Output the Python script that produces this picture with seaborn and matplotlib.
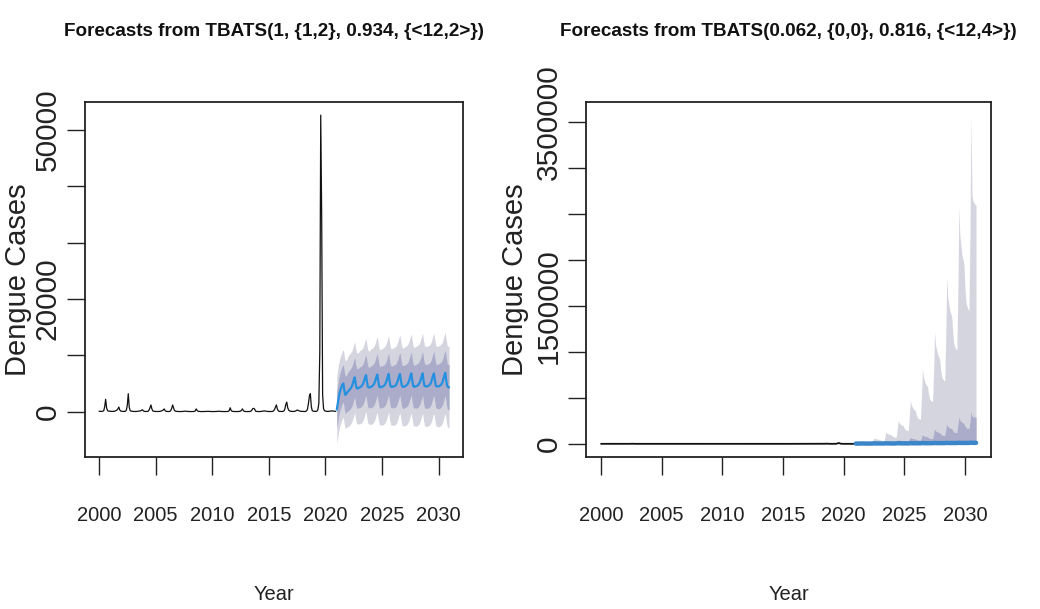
import numpy as np
import pandas as pd
import matplotlib
matplotlib.use("Agg")
import matplotlib.pyplot as plt
import matplotlib.font_manager as fm
import seaborn as sns

# ---------------- data ----------------
year_ticks = [2000, 2005, 2010, 2015, 2020, 2025, 2030]
left_yticks = [0, 10000, 20000, 30000, 40000, 50000]
left_yticklabels = ["0", "", "20000", "", "", "50000"]
right_yticks = [0, 500000, 1000000, 1500000, 2000000, 2500000, 3000000, 3500000]
right_yticklabels = ["0", "", "", "1500000", "", "", "", "3500000"]

left_title = "Forecasts from TBATS(1, {1,2}, 0.934, {<12,2>})"
right_title = "Forecasts from TBATS(0.062, {0,0}, 0.816, {<12,4>})"

# monthly observed dengue cases 2000-2020 (left panel)
left_hist = [
    100, 80, 60, 60, 90, 200, 900, 2200, 700, 200, 120, 100,          # 2000
    80, 60, 60, 50, 70, 120, 200, 300, 500, 830, 300, 120,            # 2001
    80, 60, 50, 60, 90, 300, 1200, 3200, 800, 200, 100, 80,           # 2002
    60, 50, 40, 40, 60, 80, 100, 120, 150, 250, 350, 150,             # 2003
    60, 50, 40, 50, 80, 300, 700, 1200, 500, 150, 80, 60,             # 2004
    50, 40, 40, 40, 50, 80, 120, 200, 300, 500, 200, 80,              # 2005
    50, 40, 40, 60, 200, 600, 1200, 700, 200, 100, 60, 50,            # 2006
    40, 30, 30, 30, 40, 50, 80, 100, 90, 60, 50, 40,                  # 2007
    30, 30, 30, 30, 40, 60, 150, 500, 200, 80, 50, 40,                # 2008
    30, 30, 30, 30, 40, 50, 60, 80, 70, 50, 40, 30,                   # 2009
    30, 30, 30, 30, 40, 50, 70, 90, 80, 60, 40, 30,                   # 2010
    30, 30, 30, 30, 40, 60, 200, 700, 250, 80, 50, 40,                # 2011
    30, 30, 30, 30, 40, 60, 100, 250, 500, 200, 60, 40,               # 2012
    30, 30, 30, 30, 50, 100, 300, 550, 600, 450, 100, 50,             # 2013
    40, 30, 30, 40, 50, 80, 120, 150, 120, 80, 50, 40,                # 2014
    40, 30, 30, 40, 60, 150, 400, 800, 1200, 500, 150, 60,            # 2015
    50, 40, 40, 60, 150, 500, 1300, 1700, 700, 300, 150, 80,          # 2016
    60, 50, 50, 60, 100, 200, 300, 250, 150, 100, 70, 60,             # 2017
    50, 40, 40, 60, 150, 500, 1500, 2800, 3200, 900, 200, 100,        # 2018
    80, 60, 60, 100, 400, 1500, 10500, 52600, 34600, 3000, 500, 200,  # 2019
    100, 80, 60, 60, 80, 100, 120, 150, 120, 100, 80, 60,             # 2020
]

# monthly point forecast 2021-2030 (left panel)
left_mean = [
    400, 1400, 2500, 3300, 3900, 4400, 4800, 5000, 3800, 3000, 3100, 3400,
    3600, 3800, 4000, 4200, 4500, 5000, 5600, 6100, 5000, 4200, 4100, 4200,
    4300, 4400, 4500, 4700, 5000, 5500, 6100, 6500, 5300, 4400, 4300, 4300,
    4400, 4500, 4600, 4800, 5100, 5600, 6200, 6600, 5400, 4500, 4300, 4400,
    4400, 4500, 4600, 4800, 5100, 5600, 6200, 6700, 5400, 4500, 4400, 4400,
    4500, 4500, 4600, 4800, 5200, 5700, 6300, 6700, 5500, 4600, 4400, 4400,
    4500, 4600, 4700, 4900, 5200, 5700, 6300, 6800, 5500, 4600, 4400, 4500,
    4500, 4600, 4700, 4900, 5200, 5700, 6300, 6800, 5500, 4600, 4500, 4500,
    4500, 4600, 4700, 4900, 5200, 5800, 6400, 6800, 5600, 4600, 4500, 4500,
    4500, 4600, 4700, 4900, 5200, 5800, 6400, 6900, 5600, 4600, 4400, 4300,
]
# yearly half-widths of the 80% and 95% prediction intervals (left panel)
left_hw80 = [3300, 3500, 3600, 3700, 3700, 3800, 3800, 3900, 3900, 4000]
left_hw95 = [6000, 6300, 6500, 6700, 6800, 6900, 7000, 7100, 7100, 7200]

# monthly observed series for the right panel (near zero at this scale)
right_hist = [
    120, 90, 80, 80, 110, 250, 600, 900, 400, 200, 150, 120,
    100, 80, 80, 70, 90, 150, 250, 350, 450, 500, 250, 130,
    100, 80, 70, 80, 110, 300, 800, 1300, 500, 200, 120, 100,
    80, 70, 60, 60, 80, 100, 120, 150, 180, 250, 300, 150,
    80, 70, 60, 70, 100, 300, 500, 800, 400, 150, 100, 80,
    70, 60, 60, 60, 70, 100, 150, 200, 300, 400, 200, 100,
    70, 60, 60, 80, 200, 500, 800, 500, 200, 120, 80, 70,
    60, 50, 50, 50, 60, 70, 100, 120, 110, 80, 70, 60,
    50, 50, 50, 50, 60, 80, 150, 400, 200, 100, 70, 60,
    50, 50, 50, 50, 60, 70, 80, 100, 90, 70, 60, 50,
    50, 50, 50, 50, 60, 70, 90, 110, 100, 80, 60, 50,
    50, 50, 50, 50, 60, 80, 200, 500, 250, 100, 70, 60,
    50, 50, 50, 50, 60, 80, 120, 250, 400, 200, 80, 60,
    50, 50, 50, 50, 70, 120, 300, 450, 500, 400, 120, 70,
    60, 50, 50, 60, 70, 100, 140, 170, 140, 100, 70, 60,
    60, 50, 50, 60, 80, 150, 350, 600, 800, 400, 150, 80,
    70, 60, 60, 80, 150, 400, 900, 1100, 500, 300, 150, 100,
    80, 70, 70, 80, 120, 200, 300, 250, 150, 120, 90, 80,
    70, 60, 60, 80, 150, 400, 1000, 1800, 2000, 700, 200, 120,
    100, 80, 80, 120, 400, 1200, 5000, 9000, 7000, 1500, 400, 200,
    120, 100, 80, 80, 100, 120, 140, 160, 140, 120, 100, 80,
]

# monthly point forecast 2021-2030 (right panel, thousands)
right_mean_k = [
    3, 3, 3, 3, 3, 4, 4, 4, 4, 3, 3, 3,
    3, 3, 3, 3, 4, 4, 5, 5, 4, 4, 4, 4,
    4, 4, 4, 4, 4, 5, 6, 5, 5, 5, 4, 4,
    4, 4, 4, 4, 5, 6, 7, 6, 6, 5, 5, 5,
    5, 5, 5, 5, 5, 6, 8, 7, 6, 6, 6, 6,
    6, 6, 6, 6, 6, 7, 9, 8, 7, 7, 7, 7,
    7, 7, 7, 7, 7, 8, 10, 9, 8, 8, 8, 8,
    8, 8, 8, 8, 8, 9, 11, 10, 9, 9, 9, 9,
    9, 9, 9, 9, 9, 10, 12, 11, 10, 10, 10, 10,
    10, 10, 10, 10, 10, 11, 13, 12, 11, 11, 11, 11,
]
# upper 80% bound (thousands)
right_up80_k = [
    8, 8, 8, 9, 9, 10, 12, 11, 11, 10, 10, 10,
    10, 10, 10, 10, 10, 14, 18, 16, 15, 15, 14, 14,
    13, 12, 12, 12, 12, 20, 28, 25, 24, 23, 22, 21,
    19, 18, 17, 17, 17, 30, 45, 40, 38, 36, 35, 34,
    30, 28, 27, 27, 26, 48, 70, 62, 59, 56, 55, 53,
    47, 43, 41, 41, 40, 68, 100, 88, 84, 80, 78, 76,
    66, 60, 58, 57, 56, 105, 160, 141, 134, 128, 125, 122,
    106, 96, 93, 91, 90, 145, 215, 189, 181, 172, 168, 163,
    142, 129, 125, 123, 120, 200, 293, 258, 246, 234, 229, 223,
    193, 176, 170, 167, 164, 240, 350, 300, 295, 292, 290, 288,
]
# upper 95% bound (thousands)
right_up95_k = [
    15, 15, 15, 16, 17, 20, 25, 23, 22, 21, 21, 20,
    19, 18, 18, 18, 18, 40, 65, 57, 55, 52, 51, 49,
    43, 39, 38, 37, 36, 80, 130, 114, 109, 104, 101, 99,
    86, 78, 75, 74, 73, 160, 257, 226, 216, 206, 200, 195,
    170, 154, 149, 146, 144, 300, 475, 418, 399, 380, 370, 361,
    314, 285, 276, 271, 266, 520, 818, 720, 687, 654, 638, 622,
    540, 491, 474, 466, 458, 780, 1217, 1071, 1022, 974, 949, 925,
    803, 730, 706, 694, 682, 1150, 1815, 1597, 1525, 1452, 1416, 1379,
    1198, 1089, 1053, 1035, 1016, 1650, 2576, 2267, 2164, 2061, 2009, 1958,
    1700, 1546, 1494, 1468, 1443, 2300, 3573, 2700, 2640, 2620, 2600, 2590,
]
# yearly lower bounds (thousands)
right_lo80_k = [1, 1, 2, 2, 2, 3, 3, 4, 4, 5]
right_lo95_k = [0.5, 0.5, 1, 1, 1, 1, 1.5, 1.5, 2, 2]

# ---------------- build tables ----------------
hist_t = 2000 + np.arange(len(left_hist)) / 12.0
fc_t = 2021 + np.arange(len(left_mean)) / 12.0

left_df = pd.DataFrame({"t": fc_t, "mean": left_mean,
                        "hw80": np.repeat(left_hw80, 12), "hw95": np.repeat(left_hw95, 12)})
left_df["lo80"] = left_df["mean"] - left_df["hw80"]
left_df["hi80"] = left_df["mean"] + left_df["hw80"]
left_df["lo95"] = left_df["mean"] - left_df["hw95"]
left_df["hi95"] = left_df["mean"] + left_df["hw95"]

right_df = pd.DataFrame({"t": fc_t,
                         "mean": np.array(right_mean_k) * 1000.0,
                         "hi80": np.array(right_up80_k) * 1000.0,
                         "hi95": np.array(right_up95_k) * 1000.0,
                         "lo80": np.repeat(right_lo80_k, 12) * 1000.0,
                         "lo95": np.repeat(right_lo95_k, 12) * 1000.0})

# ---------------- style ----------------
sns.set_theme(style="white")


def pick_font(cands):
    for c in cands:
        try:
            fm.findfont(fm.FontProperties(family=c), fallback_to_default=False)
            return c
        except Exception:
            pass
    return "DejaVu Sans"


narrow = pick_font(["Liberation Sans Narrow", "Liberation Sans", "Arimo", "DejaVu Sans"])
regular = pick_font(["Liberation Sans", "Arimo", "DejaVu Sans"])
plt.rcParams["font.family"] = [regular, "DejaVu Sans"]

LIGHT = "#D5D5E0"
DARK = "#ABABCA"
BLUE = "#2590E0"
BLUE_R = "#3A86C8"
INK = "#222222"

fig = plt.figure(figsize=(10.4, 6.09), dpi=100)
W, H = 1040.0, 609.0
ax_l = fig.add_axes([85 / W, (H - 457) / H, (463 - 85) / W, (457 - 102) / H])
ax_r = fig.add_axes([586 / W, (H - 457) / H, (991 - 586) / W, (457 - 102) / H])


def style_axes(ax, yticks, yticklabels, title):
    ax.set_facecolor("white")
    for s in ax.spines.values():
        s.set_visible(True)
        s.set_color(INK)
        s.set_linewidth(1.3)
    ax.set_xlim(1998.76, 2032.15)
    ax.set_xticks(year_ticks)
    ax.set_xticklabels([str(y) for y in year_ticks], fontfamily=narrow, fontsize=14.5,
                       color=INK)
    ax.set_yticks(yticks)
    ax.set_yticklabels(yticklabels, rotation=90, va="center", fontfamily=regular,
                       fontsize=21.5, color=INK)
    ax.tick_params(axis="x", which="both", bottom=True, top=False, length=13,
                   width=1.0, color=INK, pad=22)
    ax.tick_params(axis="y", which="both", left=True, right=False, length=13,
                   width=1.0, color=INK, pad=4)
    ax.set_xlabel("Year", fontfamily=narrow, fontsize=14.5, color=INK)
    ax.xaxis.set_label_coords(0.5, -0.36)
    ax.xaxis.label.set_va("top")
    ax.set_ylabel("Dengue Cases", fontfamily=regular, fontsize=21, color=INK)
    ax.yaxis.set_label_coords(-0.14, 0.5)
    ax.set_title(title, fontfamily=narrow, fontweight="bold", fontsize=13.6,
                 color="#111111", y=1.186, pad=0)
    ax.grid(False)


# ---- left panel ----
ax_l.fill_between(left_df["t"], left_df["lo95"], left_df["hi95"], color=LIGHT, lw=0)
ax_l.fill_between(left_df["t"], left_df["lo80"], left_df["hi80"], color=DARK, lw=0)
sns.lineplot(x=hist_t, y=left_hist, ax=ax_l, color="#111111", linewidth=0.9,
             errorbar=None, sort=False)
sns.lineplot(x=left_df["t"], y=left_df["mean"], ax=ax_l, color=BLUE, linewidth=1.6,
             errorbar=None, sort=False)
ax_l.set_ylim(-8030, 54930)
style_axes(ax_l, left_yticks, left_yticklabels, left_title)

# ---- right panel ----
ax_r.fill_between(right_df["t"], right_df["lo95"], right_df["hi95"], color=LIGHT, lw=0)
ax_r.fill_between(right_df["t"], right_df["lo80"], right_df["hi80"], color=DARK, lw=0)
sns.lineplot(x=hist_t, y=right_hist, ax=ax_r, color="#111111", linewidth=1.3,
             errorbar=None, sort=False)
sns.lineplot(x=right_df["t"], y=right_df["mean"], ax=ax_r, color=BLUE_R, linewidth=3.2,
             errorbar=None, sort=False)
ax_r.set_ylim(-143000, 3716000)
style_axes(ax_r, right_yticks, right_yticklabels, right_title)

fig.savefig("out.png", dpi=100, facecolor="white")
